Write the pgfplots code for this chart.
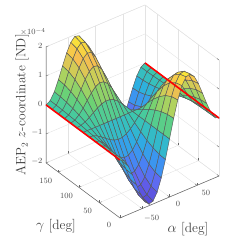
\documentclass[border=0pt]{standalone}
\usepackage{pgfplots}
\pgfplotsset{compat=1.18}
\pgfplotsset{colormap={ref}{rgb255=(85,70,210) rgb255=(100,100,240) rgb255=(65,140,245) rgb255=(45,175,225) rgb255=(60,200,170) rgb255=(110,210,115) rgb255=(190,210,90) rgb255=(245,190,80) rgb255=(250,240,50)}}
\begin{document}
\begin{tikzpicture}[x=1pt,y=1pt]
\path[use as bounding box] (0,0) rectangle (245,248);
\begin{axis}[at={(169.5pt,109pt)},anchor=origin,
 x={(0.55pt,0.233pt)},y={(-0.411pt,0.306pt)},z={(0pt,29pt)},
 xmin=-90,xmax=90,ymin=0,ymax=180,zmin=-2,zmax=2,
 xtick={-50,0,50},ytick={0,50,100,150},ztick={-2,-1,0,1,2},
 xtick pos=lower,ytick pos=lower,ztick pos=left,
 grid=major,grid style={gray!22,line width=0.4pt},
 axis line style={gray!22,line width=0.4pt},
 tick style={black!60,line width=0.4pt},major tick length=2.5pt,
 ticklabel style={font=\fontsize{8}{9}\selectfont,text=black!70},
 xticklabel style={xshift=5pt},yticklabel style={xshift=-6.5pt},
 colormap name=ref,point meta min=-2,point meta max=2,
 clip=false]
\addplot3[black!60,line width=0.5pt] coordinates {(-90,180,2)(-90,180,-2)(-90,0,-2)(90,0,-2)};
\addplot3[surf,shader=faceted,faceted color=black!65,line width=0.45pt,z buffer=sort,mesh/rows=13,mesh/cols=25,point meta=z] coordinates {
(-90,0,0)(-82.5,0,-.086)(-75,0,-.328)(-67.5,0,-.686)(-60,0,-1.098)(-52.5,0,-1.491)(-45,0,-1.793)(-37.5,0,-1.943)(-30,0,-1.901)(-22.5,0,-1.656)(-15,0,-1.224)(-7.5,0,-.65)(0,0,0)(7.5,0,.65)(15,0,1.224)(22.5,0,1.656)(30,0,1.901)(37.5,0,1.943)(45,0,1.793)(52.5,0,1.491)(60,0,1.098)(67.5,0,.686)(75,0,.328)(82.5,0,.086)(90,0,0)
(-90,15,0)(-82.5,15,-.083)(-75,15,-.317)(-67.5,15,-.663)(-60,15,-1.061)(-52.5,15,-1.44)(-45,15,-1.732)(-37.5,15,-1.877)(-30,15,-1.836)(-22.5,15,-1.6)(-15,15,-1.182)(-7.5,15,-.628)(0,15,0)(7.5,15,.628)(15,15,1.182)(22.5,15,1.6)(30,15,1.836)(37.5,15,1.877)(45,15,1.732)(52.5,15,1.44)(60,15,1.061)(67.5,15,.663)(75,15,.317)(82.5,15,.083)(90,15,0)
(-90,30,0)(-82.5,30,-.074)(-75,30,-.284)(-67.5,30,-.594)(-60,30,-.951)(-52.5,30,-1.291)(-45,30,-1.553)(-37.5,30,-1.683)(-30,30,-1.646)(-22.5,30,-1.434)(-15,30,-1.06)(-7.5,30,-.563)(0,30,0)(7.5,30,.563)(15,30,1.06)(22.5,30,1.434)(30,30,1.646)(37.5,30,1.683)(45,30,1.553)(52.5,30,1.291)(60,30,.951)(67.5,30,.594)(75,30,.284)(82.5,30,.074)(90,30,0)
(-90,45,0)(-82.5,45,-.061)(-75,45,-.232)(-67.5,45,-.485)(-60,45,-.776)(-52.5,45,-1.054)(-45,45,-1.268)(-37.5,45,-1.374)(-30,45,-1.344)(-22.5,45,-1.171)(-15,45,-.865)(-7.5,45,-.46)(0,45,0)(7.5,45,.46)(15,45,.865)(22.5,45,1.171)(30,45,1.344)(37.5,45,1.374)(45,45,1.268)(52.5,45,1.054)(60,45,.776)(67.5,45,.485)(75,45,.232)(82.5,45,.061)(90,45,0)
(-90,60,0)(-82.5,60,-.043)(-75,60,-.164)(-67.5,60,-.343)(-60,60,-.549)(-52.5,60,-.746)(-45,60,-.897)(-37.5,60,-.972)(-30,60,-.951)(-22.5,60,-.828)(-15,60,-.612)(-7.5,60,-.325)(0,60,0)(7.5,60,.325)(15,60,.612)(22.5,60,.828)(30,60,.951)(37.5,60,.972)(45,60,.897)(52.5,60,.746)(60,60,.549)(67.5,60,.343)(75,60,.164)(82.5,60,.043)(90,60,0)
(-90,75,0)(-82.5,75,-.022)(-75,75,-.085)(-67.5,75,-.178)(-60,75,-.284)(-52.5,75,-.386)(-45,75,-.464)(-37.5,75,-.503)(-30,75,-.492)(-22.5,75,-.429)(-15,75,-.317)(-7.5,75,-.168)(0,75,0)(7.5,75,.168)(15,75,.317)(22.5,75,.429)(30,75,.492)(37.5,75,.503)(45,75,.464)(52.5,75,.386)(60,75,.284)(67.5,75,.178)(75,75,.085)(82.5,75,.022)(90,75,0)
(-90,90,0)(-82.5,90,0)(-75,90,0)(-67.5,90,0)(-60,90,0)(-52.5,90,0)(-45,90,0)(-37.5,90,0)(-30,90,0)(-22.5,90,0)(-15,90,0)(-7.5,90,0)(0,90,0)(7.5,90,0)(15,90,0)(22.5,90,0)(30,90,0)(37.5,90,0)(45,90,0)(52.5,90,0)(60,90,0)(67.5,90,0)(75,90,0)(82.5,90,0)(90,90,0)
(-90,105,0)(-82.5,105,.022)(-75,105,.085)(-67.5,105,.178)(-60,105,.284)(-52.5,105,.386)(-45,105,.464)(-37.5,105,.503)(-30,105,.492)(-22.5,105,.429)(-15,105,.317)(-7.5,105,.168)(0,105,0)(7.5,105,-.168)(15,105,-.317)(22.5,105,-.429)(30,105,-.492)(37.5,105,-.503)(45,105,-.464)(52.5,105,-.386)(60,105,-.284)(67.5,105,-.178)(75,105,-.085)(82.5,105,-.022)(90,105,0)
(-90,120,0)(-82.5,120,.043)(-75,120,.164)(-67.5,120,.343)(-60,120,.549)(-52.5,120,.746)(-45,120,.897)(-37.5,120,.972)(-30,120,.951)(-22.5,120,.828)(-15,120,.612)(-7.5,120,.325)(0,120,0)(7.5,120,-.325)(15,120,-.612)(22.5,120,-.828)(30,120,-.951)(37.5,120,-.972)(45,120,-.897)(52.5,120,-.746)(60,120,-.549)(67.5,120,-.343)(75,120,-.164)(82.5,120,-.043)(90,120,0)
(-90,135,0)(-82.5,135,.061)(-75,135,.232)(-67.5,135,.485)(-60,135,.776)(-52.5,135,1.054)(-45,135,1.268)(-37.5,135,1.374)(-30,135,1.344)(-22.5,135,1.171)(-15,135,.865)(-7.5,135,.46)(0,135,0)(7.5,135,-.46)(15,135,-.865)(22.5,135,-1.171)(30,135,-1.344)(37.5,135,-1.374)(45,135,-1.268)(52.5,135,-1.054)(60,135,-.776)(67.5,135,-.485)(75,135,-.232)(82.5,135,-.061)(90,135,0)
(-90,150,0)(-82.5,150,.074)(-75,150,.284)(-67.5,150,.594)(-60,150,.951)(-52.5,150,1.291)(-45,150,1.553)(-37.5,150,1.683)(-30,150,1.646)(-22.5,150,1.434)(-15,150,1.06)(-7.5,150,.563)(0,150,0)(7.5,150,-.563)(15,150,-1.06)(22.5,150,-1.434)(30,150,-1.646)(37.5,150,-1.683)(45,150,-1.553)(52.5,150,-1.291)(60,150,-.951)(67.5,150,-.594)(75,150,-.284)(82.5,150,-.074)(90,150,0)
(-90,165,0)(-82.5,165,.083)(-75,165,.317)(-67.5,165,.663)(-60,165,1.061)(-52.5,165,1.44)(-45,165,1.732)(-37.5,165,1.877)(-30,165,1.836)(-22.5,165,1.6)(-15,165,1.182)(-7.5,165,.628)(0,165,0)(7.5,165,-.628)(15,165,-1.182)(22.5,165,-1.6)(30,165,-1.836)(37.5,165,-1.877)(45,165,-1.732)(52.5,165,-1.44)(60,165,-1.061)(67.5,165,-.663)(75,165,-.317)(82.5,165,-.083)(90,165,0)
(-90,180,0)(-82.5,180,.086)(-75,180,.328)(-67.5,180,.686)(-60,180,1.098)(-52.5,180,1.491)(-45,180,1.793)(-37.5,180,1.943)(-30,180,1.901)(-22.5,180,1.656)(-15,180,1.224)(-7.5,180,.65)(0,180,0)(7.5,180,-.65)(15,180,-1.224)(22.5,180,-1.656)(30,180,-1.901)(37.5,180,-1.943)(45,180,-1.793)(52.5,180,-1.491)(60,180,-1.098)(67.5,180,-.686)(75,180,-.328)(82.5,180,-.086)(90,180,0)
};
\addplot3[red,line width=1.6pt] coordinates {(-90,0,0)(-90,180,0)};
\addplot3[red,line width=1.6pt] coordinates {(90,0,0)(90,180,0)};
\end{axis}
\node[rotate=90,text=black!75,font=\fontsize{13.5}{15}\selectfont] at (22,143) {AEP$_2$ $z$-coordinate [ND]};
\node[text=black!75,font=\fontsize{13.5}{15}\selectfont] at (56,22) {$\gamma$ [deg]};
\node[text=black!75,font=\fontsize{13.5}{15}\selectfont] at (188,19) {$\alpha$ [deg]};
\node[text=black!70,font=\fontsize{8}{9}\selectfont] at (33,216) {$\times 10^{-4}$};
\end{tikzpicture}
\end{document}
